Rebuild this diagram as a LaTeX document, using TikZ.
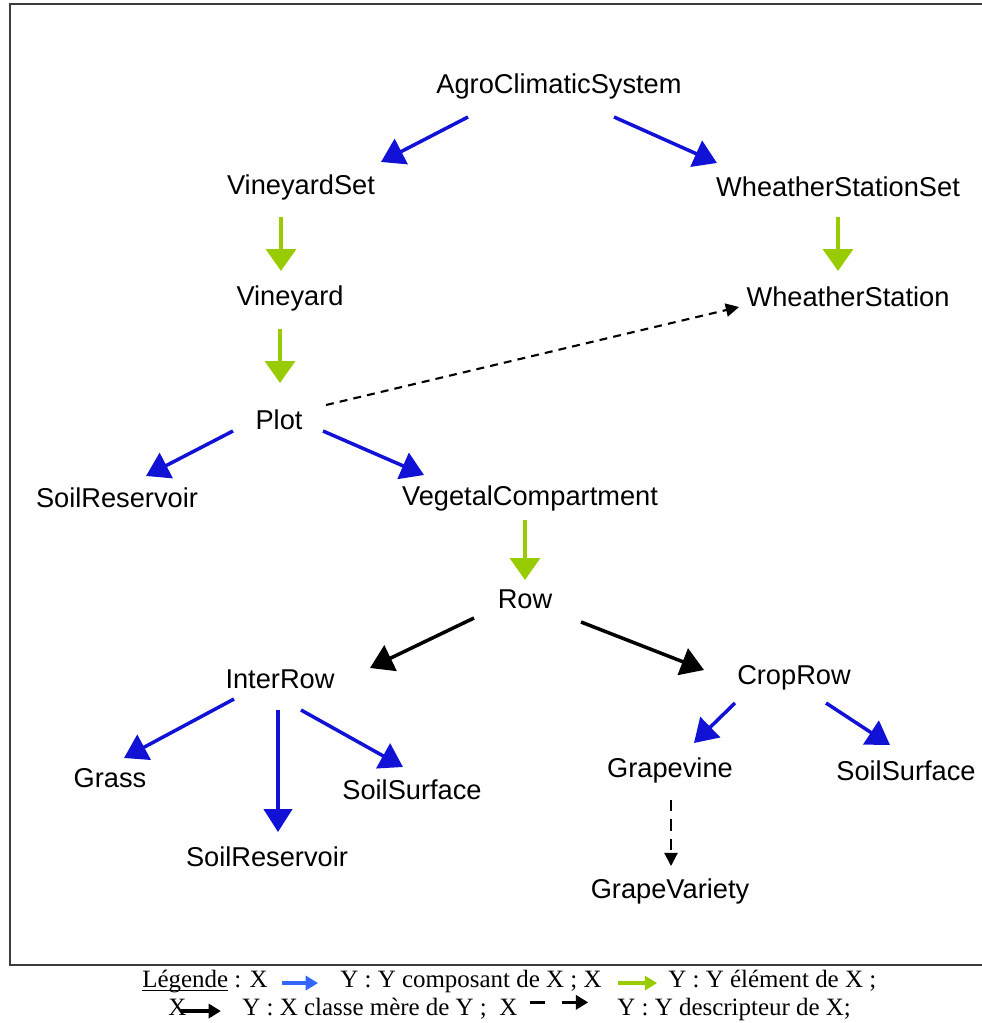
\documentclass[tikz,border=0pt]{standalone}
\usepackage{fontspec}
\setmainfont{Liberation Sans}
\newfontfamily\legendfont{Liberation Serif}
\usepackage{tikz}
\usetikzlibrary{arrows.meta, calc, positioning}
\definecolor{compoblue}{RGB}{18,18,214}
\definecolor{elemgreen}{RGB}{153,204,0}
\definecolor{legblue}{RGB}{51,102,255}
\definecolor{framegray}{RGB}{60,60,60}
\newcommand{\legunder}[1]{\setbox0\hbox{#1}\rlap{\rule[-2.2pt]{\wd0}{0.7pt}}\box0\relax}

\tikzset{
  concept/.style={font=\fontsize{15.5}{18}\selectfont, inner sep=0pt},
  legtext/.style={font=\legendfont\fontsize{14.2}{16}\selectfont, inner sep=0pt,
    text height=0.7em, text depth=0.25em, anchor=base west},
  legarrow/.style={line width=2.2pt, -{Triangle[length=7pt,width=8pt]}},
  compo/.style={color=compoblue, line width=2pt, -{Triangle[length=13pt,width=16pt]}},
  elem/.style={color=elemgreen, line width=2.2pt, -{Triangle[length=12.5pt,width=17pt]}},
  inherit/.style={color=black, line width=2pt, -{Triangle[length=13pt,width=16pt]}},
  descr/.style={color=black, line width=1.2pt, dash pattern=on 4.5pt off 3.5pt,
    -{Triangle[length=7.5pt,width=7.5pt]}},
}

\begin{document}
\begin{tikzpicture}[x=0.02cm, y=-0.02cm]
\useasboundingbox (0,0) rectangle (982,1023);
% frame
\draw[framegray, line width=1.2pt] (982,4) -- (10,4) -- (10,965) -- (982,965);

% concepts
\node[concept] (agro) at (559,86) {AgroClimaticSystem};
\node[concept] (vset) at (301,187) {VineyardSet};
\node[concept] (wsset) at (838,187) {WheatherStationSet};
\node[concept] (vyard) at (290,298) {Vineyard};
\node[concept] (wstation) at (848,297) {WheatherStation};
\node[concept] (plot) at (279,420) {Plot};
\node[concept] (soilres) at (117,498) {SoilReservoir};
\node[concept] (vegcomp) at (530,498) {VegetalCompartment};
\node[concept] (row) at (525,599) {Row};
\node[concept] (interrow) at (280,679) {InterRow};
\node[concept] (croprow) at (794,678) {CropRow};
\node[concept] (grass) at (110,778) {Grass};
\node[concept] (soilsurf) at (412,790) {SoilSurface};
\node[concept] (soilres2) at (267,857) {SoilReservoir};
\node[concept] (grapevine) at (670,770) {Grapevine};
\node[concept] (soilsurf2) at (906,771) {SoilSurface};
\node[concept] (grapevar) at (670,891) {GrapeVariety};

% links
\draw[compo] ($(agro)+(-91,31)$) -- ($(vset)+(80,-25)$);
\draw[compo] ($(agro)+(55,31)$) -- ($(wsset)+(-121,-24)$);
\draw[elem] ($(vset)+(-20,30)$) -- ($(vyard)+(-9,-27)$);
\draw[elem] ($(wsset)+(0,30)$) -- ($(wstation)+(-10,-26)$);
\draw[elem] ($(vyard)+(-10,31)$) -- ($(plot)+(1,-37)$);
\draw[descr] ($(plot)+(47,-15)$) -- ($(wstation)+(-109,10)$);
\draw[compo] ($(plot)+(-46,11)$) -- ($(soilres)+(29,-22)$);
\draw[compo] ($(plot)+(44,11)$) -- ($(vegcomp)+(-106,-23)$);
\draw[elem] ($(vegcomp)+(-5,22)$) -- ($(row)+(0,-19)$);
\draw[inherit] ($(row)+(-51,19)$) -- ($(interrow)+(90,-11)$);
\draw[inherit] ($(row)+(56,23)$) -- ($(croprow)+(-90,-8)$);
\draw[compo] ($(interrow)+(-46,20)$) -- ($(grass)+(14,-20)$);
\draw[compo] ($(interrow)+(-2,31)$) -- ($(soilres2)+(11,-25)$);
\draw[compo] ($(interrow)+(21,31)$) -- ($(soilsurf)+(-9,-23)$);
\draw[compo] ($(croprow)+(-59,25)$) -- ($(grapevine)+(24,-27)$);
\draw[compo] ($(croprow)+(32,25)$) -- ($(soilsurf2)+(-16,-26)$);
\draw[descr, dash pattern=on 6.5pt off 4.5pt] ($(grapevine)+(1,30)$) -- ($(grapevar)+(1,-25)$);

% legend
\node[legtext] (leg1a) at (142,987) {\legunder{Légende} : X};
\node[legtext] (leg1b) at (340,987) {Y : Y composant de X ; X};
\node[legtext] (leg1c) at (668,987) {Y : Y élément de X ;};
\node[legtext] (leg2a) at (168,1015) {X};
\node[legtext] (leg2b) at (242,1015) {Y : X classe mère de Y ;~ X};
\node[legtext] (leg2c) at (617,1015) {Y : Y descripteur de X;};
\draw[legarrow, legblue, shorten <=8pt, shorten >=12.5pt] (leg1a.east) -- (leg1b.west);
\draw[legarrow, elemgreen, shorten <=9pt, shorten >=6.2pt] (leg1b.east) -- (leg1c.west);
\draw[legarrow, black, shorten <=2pt, shorten >=12pt] (leg2a.center) -- (leg2b.west);
\draw[legarrow, black, line width=1.8pt, dash pattern=on 8.5pt off 10pt,
  shorten <=6.8pt, shorten >=16.4pt] (leg2b.north east) -- (leg2c.north west);
\end{tikzpicture}
\end{document}
